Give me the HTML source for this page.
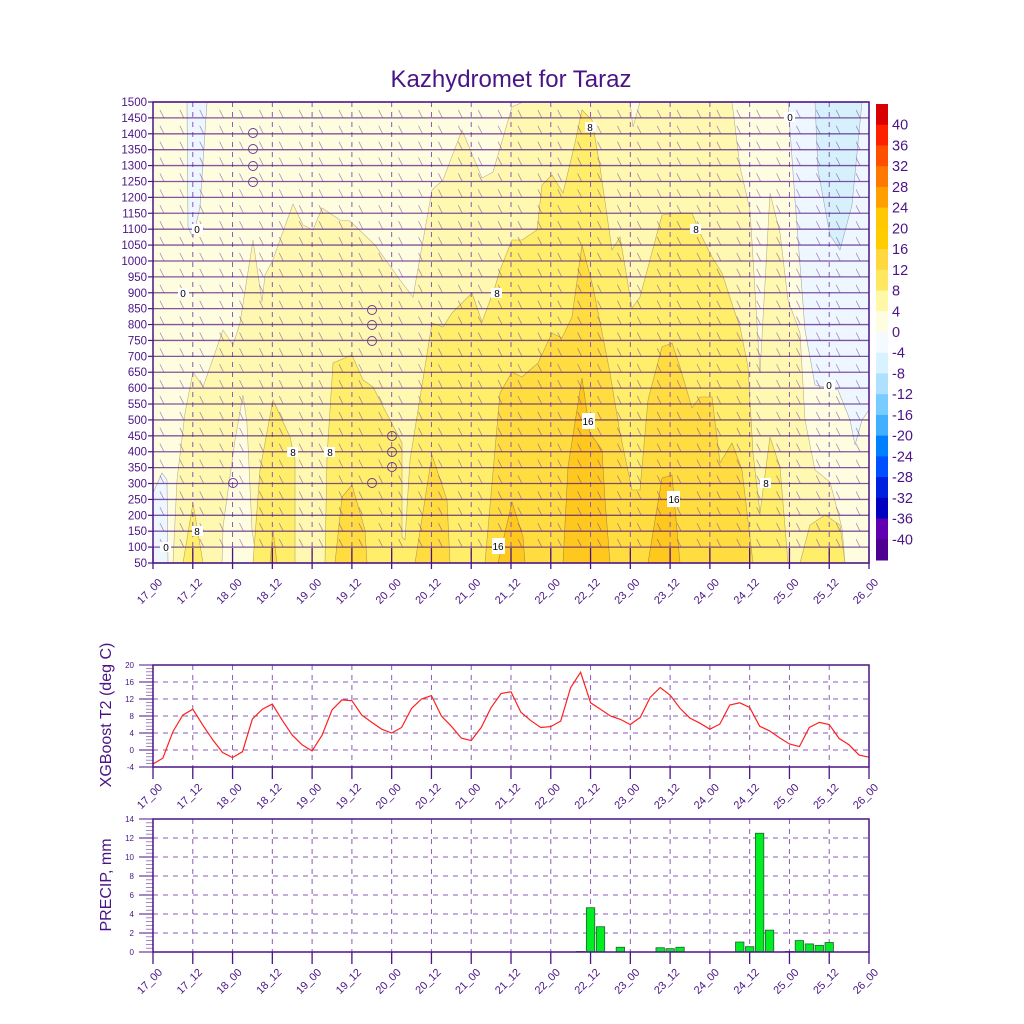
<!DOCTYPE html>
<html><head><meta charset="utf-8"><style>
html,body{margin:0;padding:0;background:#fff;}
svg{display:block;font-family:"Liberation Sans",sans-serif;}
</style></head><body>
<svg id="s" width="1024" height="1024" viewBox="0 0 1024 1024" xmlns="http://www.w3.org/2000/svg">
<rect width="1024" height="1024" fill="#fff"/>
<text x="511" y="87" text-anchor="middle" font-size="24" fill="#4a1486">Kazhydromet for Taraz</text>
<g id="main">
<rect x="153" y="102" width="716" height="461" fill="#fff8b0"/>
<g fill="#fffde0" stroke="#b8b090" stroke-width="0.6">
<polygon points="153,102 523,102 512,107 493,172 482,178 462,130 443,180 432,190 413,297 400,280 375,245 350,221 340,220 322,208 313,230 303,225 293,204 272,262 265,275 262,302 253,240 240,323 233,345 223,330 215,353 203,387 193,372 185,413 177,480 173,563 153,563"/>
<polygon points="630,102 633,127 640,102"/>
<polygon points="732,102 740,167 750,210 760,373 770,193 780,233 788,300 800,333 805,420 815,470 830,482 842,528 845,563 869,563 869,102"/>
<polygon points="222,563 223,527 235,440 243,395 247,423 252,530 257,563"/>
</g>
<g fill="#eef6ff" stroke="#a0a8b0" stroke-width="0.6">
<polygon points="187,102 188,227 193,238 200,207 207,102"/>
<polygon points="153,493 162,473 167,480 168,563 153,563"/>
<polygon points="788,102 795,200 805,330 815,385 838,390 850,420 855,445 862,420 869,410 869,102"/>
</g>
<polygon points="815,102 818,170 830,235 840,250 852,205 862,102" fill="#d6f0fc" stroke="#a0a8b0" stroke-width="0.6"/>
<g fill="#ffee6a" stroke="#b8a860" stroke-width="0.6">
<polygon points="183,563 193,503 203,563"/>
<polygon points="253,563 260,470 273,400 290,437 295,460 295,563"/>
<polygon points="325,563 327,457 333,363 352,355 363,380 373,387 390,420 402,443 402,537 405,540 410,460 432,323 443,327 452,313 472,293 482,322 495,287 500,270 512,240 522,240 537,230 542,185 552,175 563,193 575,143 582,110 592,120 600,167 612,250 620,237 632,308 640,297 662,215 677,213 692,213 700,233 712,257 722,273 733,307 740,327 748,367 753,453 760,513 770,437 780,467 788,563"/>
<polygon points="800,563 810,525 825,515 840,525 845,563"/>
</g>
<g fill="#ffdd40" stroke="#b89a50" stroke-width="0.6">
<polygon points="415,563 432,455 447,500 450,563"/>
<polygon points="485,563 500,393 512,372 522,377 538,363 552,333 562,338 572,317 582,245 593,287 610,373 620,433 632,490 640,490 648,400 662,347 672,343 680,367 692,408 700,397 712,397 720,463 732,443 742,470 753,563"/>
<polygon points="335,563 342,497 352,485 365,530 367,563"/>
<polygon points="270,563 273,530 277,563"/>
</g>
<g fill="#ffc81e" stroke="#b08a40" stroke-width="0.6">
<polygon points="498,563 512,502 523,537 525,563"/>
<polygon points="563,563 568,467 582,378 590,433 602,450 605,500 610,563"/>
<polygon points="648,563 662,478 672,475 680,563"/>
</g>
<g id="grid"></g>
<g id="barbs"></g>
<g fill="none" stroke="#6a3a9a" stroke-width="0.9">
<circle cx="253" cy="133" r="4.5"/><circle cx="253" cy="149" r="4.5"/><circle cx="253" cy="166" r="4.5"/><circle cx="253" cy="182" r="4.5"/>
<circle cx="372" cy="310" r="4.5"/><circle cx="372" cy="325" r="4.5"/><circle cx="372" cy="341" r="4.5"/>
<circle cx="392" cy="436" r="4.5"/><circle cx="392" cy="452" r="4.5"/><circle cx="392" cy="467" r="4.5"/>
<circle cx="372" cy="483" r="4.5"/><circle cx="233" cy="483" r="4.5"/>
</g>
<g font-size="10" fill="#000" text-anchor="middle">
<rect x="160" y="542" width="11" height="10" fill="#fff"/><text x="166" y="551">0</text>
<rect x="192" y="224" width="11" height="10" fill="#fff"/><text x="197" y="233">0</text>
<rect x="178" y="288" width="11" height="10" fill="#fff"/><text x="183" y="297">0</text>
<rect x="192" y="526" width="11" height="10" fill="#fff"/><text x="197" y="535">8</text>
<rect x="287" y="447" width="11" height="10" fill="#fff"/><text x="293" y="456">8</text>
<rect x="324" y="447" width="11" height="10" fill="#fff"/><text x="330" y="456">8</text>
<rect x="491" y="288" width="11" height="10" fill="#fff"/><text x="497" y="297">8</text>
<rect x="585" y="122" width="11" height="10" fill="#fff"/><text x="590" y="131">8</text>
<rect x="690" y="224" width="11" height="10" fill="#fff"/><text x="696" y="233">8</text>
<rect x="760" y="478" width="11" height="10" fill="#fff"/><text x="766" y="487">8</text>
<rect x="784" y="112" width="11" height="10" fill="#fff"/><text x="790" y="121">0</text>
<rect x="824" y="380" width="11" height="10" fill="#fff"/><text x="829" y="389">0</text>
<rect x="582" y="413" width="13" height="16" fill="#fff"/><text x="588" y="425">16</text>
<rect x="667" y="491" width="13" height="16" fill="#fff"/><text x="674" y="503">16</text>
<rect x="492" y="538" width="13" height="16" fill="#fff"/><text x="498" y="550">16</text>
</g>
<rect x="153" y="102" width="716" height="461" fill="none" stroke="#4a1486" stroke-width="1.5"/>
</g>
<g id="cbar"></g>
<g id="t2"></g>
<g id="pr"></g>
<script><![CDATA[
(function(){
var NS="http://www.w3.org/2000/svg";
function el(p,t,a,txt){var e=document.createElementNS(NS,t);for(var k in a)e.setAttribute(k,a[k]);if(txt!==undefined)e.textContent=txt;p.appendChild(e);return e;}
var X0=153,X1=869,step=(X1-X0)/72;
var ticks=["17_00","17_12","18_00","18_12","19_00","19_12","20_00","20_12","21_00","21_12","22_00","22_12","23_00","23_12","24_00","24_12","25_00","25_12","26_00"];
var C="#4a1486";
function lab(p,x,y,s){var ax=x+10,ay=y;el(p,"text",{x:ax,y:ay,"font-size":11,fill:C,"text-anchor":"end",transform:"rotate(-45 "+ax+" "+ay+")"},s);}
var g=document.getElementById("grid"),b=document.getElementById("barbs"),m=document.getElementById("main");
var Y0=102,Y1=563,dy=(Y1-Y0)/29;
for(var i=0;i<19;i++){var x=X0+i*step*4;
 el(g,"line",{x1:x,y1:Y0,x2:x,y2:Y1,stroke:"#8a5ab8","stroke-width":1,"stroke-dasharray":"5,5"});
 el(g,"line",{x1:x,y1:Y1-15,x2:x,y2:Y1,stroke:C,"stroke-width":1.3});
 el(m,"line",{x1:x,y1:Y1,x2:x,y2:Y1+6,stroke:C,"stroke-width":1.3});
 lab(m,x,Y1+20,ticks[i]);
}
for(var j=0;j<30;j++){var y=Y0+j*dy;var v=1500-j*50;
 el(g,"line",{x1:X0,y1:y,x2:X1,y2:y,stroke:"#4b0f80","stroke-width":1.3,opacity:0.7});
 el(m,"text",{x:147,y:y+4,"font-size":11.5,fill:C,"text-anchor":"end"},String(v));
 el(m,"line",{x1:X0-5,y1:y,x2:X0,y2:y,stroke:C,"stroke-width":1.2});
 if(j>0&&j<29) for(var k=1;k<72;k+=2){var x=X0+k*step;
  el(b,"line",{x1:x-3,y1:y-8,x2:x+1,y2:y,stroke:"#6a3a9a","stroke-width":0.8,opacity:0.55});}
}
var cb=document.getElementById("cbar");
var cols=["#d80000","#ff2000","#ff5000","#ff7800","#ffa000","#ffc800","#ffcc00","#ffd840","#ffe860","#fff8a8","#fffde0","#f4faff","#d8f2ff","#b0e0ff","#78ccff","#40b0ff","#0080ff","#0050ff","#0020e0","#0000c0","#6000b0","#500090"];
var cy0=104,ch=(560-104)/22;
for(var i=0;i<22;i++){el(cb,"rect",{x:876,y:cy0+i*ch,width:12,height:ch+0.5,fill:cols[i]});}
for(var i=0;i<21;i++){el(cb,"text",{x:892,y:cy0+(i+1)*ch+5,"font-size":14.5,fill:C},String(40-4*i));}
function panel(id,top,bot,vmin,vmax,vstep,title,ty){
 var p=document.getElementById(id);
 var sc=(bot-top)/(vmax-vmin);
 for(var v=vmin;v<=vmax;v+=vstep){var y=bot-(v-vmin)*sc;
  if(v>vmin&&v<vmax) el(p,"line",{x1:X0,y1:y,x2:X1,y2:y,stroke:"#8a5ab8","stroke-width":1,"stroke-dasharray":"5,5"});
  el(p,"text",{x:134,y:y+3,"font-size":8,fill:C,"text-anchor":"end"},String(v));
  el(p,"line",{x1:X0-14,y1:y,x2:X0,y2:y,stroke:C,"stroke-width":1});
  if(v<vmax) for(var q=1;q<5;q++){var yy=y-q*vstep*sc/5;el(p,"line",{x1:X0-7,y1:yy,x2:X0,y2:yy,stroke:"#8a6ab0","stroke-width":0.8});}
 }
 for(var i=0;i<19;i++){var x=X0+i*step*4;
  if(i>0&&i<18) el(p,"line",{x1:x,y1:top,x2:x,y2:bot,stroke:"#8a5ab8","stroke-width":1,"stroke-dasharray":"5,5"});
  el(p,"line",{x1:x,y1:bot,x2:x,y2:bot+12,stroke:C,"stroke-width":1.3});
  lab(p,x,bot+21,ticks[i]);
 }
 el(p,"text",{x:111,y:ty,"font-size":16,fill:C,"text-anchor":"middle",transform:"rotate(-90 111 "+ty+")"},title);
 return {p:p,sc:sc};
}
var T=[-3.3,-1.9,4.3,8.2,9.6,5.9,2.4,-0.6,-1.8,-0.4,7.3,9.6,10.8,7,3.5,1.2,-0.2,3.5,9.4,11.8,11.6,8.2,6.5,4.9,4.0,5.3,9.8,12,12.8,8,5.6,2.8,2.2,5.3,10,13.3,13.7,8.9,6.9,5.3,5.5,6.8,14.7,18.3,11.1,9.6,8,7.2,6,7.7,12.4,14.7,12.9,9.8,7.5,6.3,4.9,6.1,10.6,11.1,10,5.6,4.5,2.9,1.4,0.8,5.3,6.5,6,2.7,1.2,-1.2,-1.7];
var a=panel("t2",665,767,-4,20,4,"XGBoost T2 (deg C)",715);
var pts=T.map(function(v,i){return (X0+i*step).toFixed(1)+","+(767-(v+4)*a.sc).toFixed(1);}).join(" ");
el(a.p,"polyline",{points:pts,fill:"none",stroke:"#ff2020","stroke-width":1.2});
el(a.p,"rect",{x:X0,y:665,width:X1-X0,height:102,fill:"none",stroke:C,"stroke-width":1.5});
var c=panel("pr",819,952,0,14,2,"PRECIP, mm",885);
var P={43:0.05,44:4.66,45:2.66,47:0.5,51:0.45,52:0.35,53:0.5,59:1.05,60:0.56,61:12.5,62:2.3,64:0.05,65:1.2,66:0.85,67:0.7,68:1.0};
for(var k in P){var x=X0+k*step-4.2,h=P[k]*c.sc;el(c.p,"rect",{x:x,y:952-h,width:8.4,height:h,fill:"#00ee22",stroke:"#206030","stroke-width":0.8});}
el(c.p,"rect",{x:X0,y:819,width:X1-X0,height:133,fill:"none",stroke:C,"stroke-width":1.5});
})();
]]></script>
</svg>
</body></html>
